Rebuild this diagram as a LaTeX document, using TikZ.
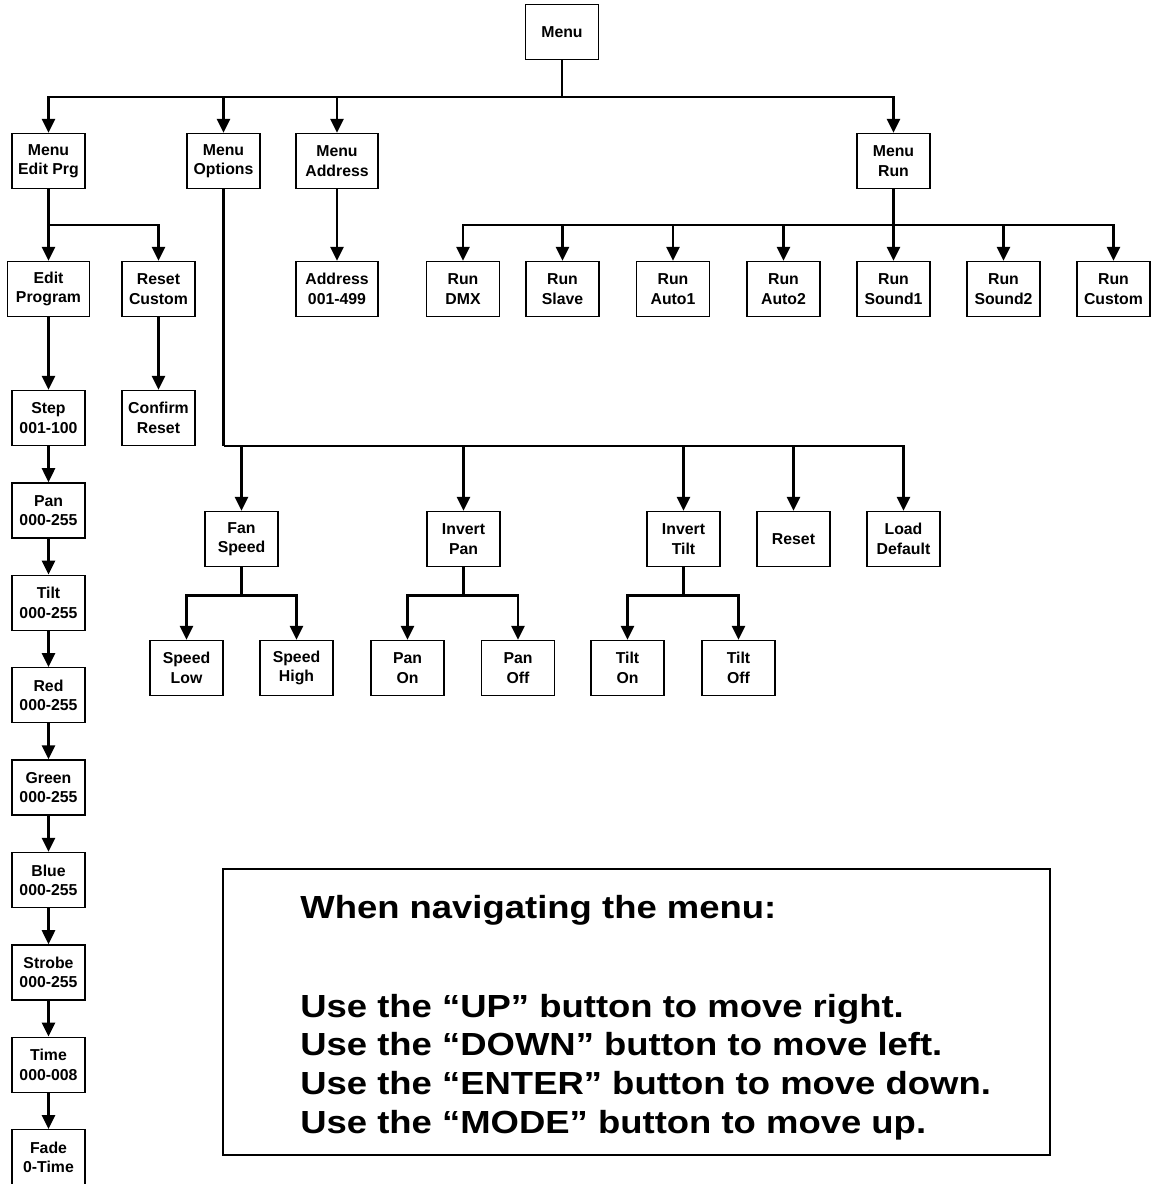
\documentclass[tikz,border=0pt]{standalone}
\usepackage{fontspec}
\setmainfont{Liberation Sans}
\newfontfamily\notefont[FakeStretch=1.14]{Liberation Sans}
\usetikzlibrary{arrows.meta}
\tikzset{
  box/.style={draw=black,line width=0.8pt,minimum width=1.46cm,minimum height=1.1cm,
    align=center,inner sep=1pt,font=\fontsize{9}{11}\selectfont\bfseries},
  widebox/.style={box,minimum width=1.64cm},
  link/.style={line width=1.5pt},
  arr/.style={link,-{Triangle[width=0.26cm,length=0.28cm]}},
  notetext/.style={anchor=base west,inner sep=0pt,font=\notefont\fontsize{18.2}{21.9}\selectfont\bfseries}
}
\begin{document}
\begin{tikzpicture}[x=0.02cm,y=-0.02cm]
\useasboundingbox (0,0) rectangle (1151,1184);

% Top level
\node[box] (menu) at (562,32) {Menu};
\node[box] (mprg) at (48.5,161) {Menu\\Edit Prg};
\node[box] (mopt) at (223.5,161) {Menu\\Options};
\node[widebox] (maddr) at (337,161) {Menu\\Address};
\node[box] (mrun) at (893.5,161) {Menu\\Run};

\coordinate (topbus) at (562,97);
\draw[link] (menu.south) -- (topbus);
\foreach \n in {mprg,mopt,maddr,mrun}
    \draw[arr] (topbus) -| (\n.north);

% Edit program branch
\node[widebox] (editprog) at (48.5,289) {Edit\\Program};
\node[box] (resetc) at (158.5,289) {Reset\\Custom};
\node[box] (confirm) at (158.5,418) {Confirm\\Reset};

\coordinate (prgbus) at (48.5,225);
\draw[link] (mprg.south) -- (prgbus);
\foreach \n in {editprog,resetc}
    \draw[arr] (prgbus) -| (\n.north);
\draw[arr] (resetc) -- (confirm);

% Program steps
\foreach \name/\txt [count=\i from 0] in {stepval/{Step\\001-100},panval/{Pan\\000-255},
    tiltval/{Tilt\\000-255},redval/{Red\\000-255},greenval/{Green\\000-255},
    blueval/{Blue\\000-255},strobeval/{Strobe\\000-255},timeval/{Time\\000-008},
    fadeval/{Fade\\0-Time}}
    \node[box] (\name) at (48.5,418+92.4*\i) {\txt};

\foreach \a/\b in {editprog/stepval,stepval/panval,panval/tiltval,tiltval/redval,
    redval/greenval,greenval/blueval,blueval/strobeval,strobeval/timeval,timeval/fadeval}
    \draw[arr] (\a) -- (\b);

% Address
\node[widebox] (address) at (337,289) {Address\\001-499};
\draw[arr] (maddr) -- (address);

% Run modes
\foreach \name/\txt/\x in {rdmx/DMX/463,rslave/Slave/562.5,rauto1/Auto1/673,
    rauto2/Auto2/783.5,rsound1/Sound1/893.5,rsound2/Sound2/1003.5,rcustom/Custom/1113.5}
    \node[box] (\name) at (\x,289) {Run\\\txt};

\coordinate (runbus) at (893.5,225);
\draw[link] (mrun.south) -- (runbus);
\foreach \n in {rdmx,rslave,rauto1,rauto2,rsound1,rsound2,rcustom}
    \draw[arr] (runbus) -| (\n.north);

% Options
\node[box] (fan) at (241.5,539) {Fan\\Speed};
\node[box] (invpan) at (463.5,539) {Invert\\Pan};
\node[box] (invtilt) at (683.5,539) {Invert\\Tilt};
\node[box] (resetopt) at (793.5,539) {Reset};
\node[box] (loaddef) at (903.5,539) {Load\\Default};

\coordinate (optbus) at (223.5,446);
\draw[link] (mopt.south) -- (optbus);
\foreach \n in {fan,invpan,invtilt,resetopt,loaddef}
    \draw[arr] (optbus) -| (\n.north);

% Option settings
\node[box] (spdlow) at (186.5,668) {Speed\\Low};
\node[box] (spdhigh) at (296.5,668) {Speed\\High};
\node[box] (panon) at (407.5,668) {Pan\\On};
\node[box] (panoff) at (518,668) {Pan\\Off};
\node[box] (tilton) at (627.5,668) {Tilt\\On};
\node[box] (tiltoff) at (738.5,668) {Tilt\\Off};

\foreach \p/\l/\r in {fan/spdlow/spdhigh,invpan/panon/panoff,invtilt/tilton/tiltoff} {
    \coordinate (\p bus) at ([yshift=-0.56cm]\p.south);
    \draw[link] (\p.south) -- (\p bus);
    \draw[arr] (\p bus) -| (\l.north);
    \draw[arr] (\p bus) -| (\r.north);
}

% Navigation note
\node[draw=black,line width=0.8pt,minimum width=16.54cm,minimum height=5.72cm,inner sep=0pt]
    (note) at (636.5,1012) {};
\node[notetext] (notehead) at (300,918) {When navigating the menu:};
\foreach \txt [count=\i from 0] in {Use the “UP” button to move right.,
    Use the “DOWN” button to move left.,Use the “ENTER” button to move down.,
    Use the “MODE” button to move up.}
    \node[notetext] (note\i) at (300,1017+38.7*\i) {\txt};
\end{tikzpicture}
\end{document}
